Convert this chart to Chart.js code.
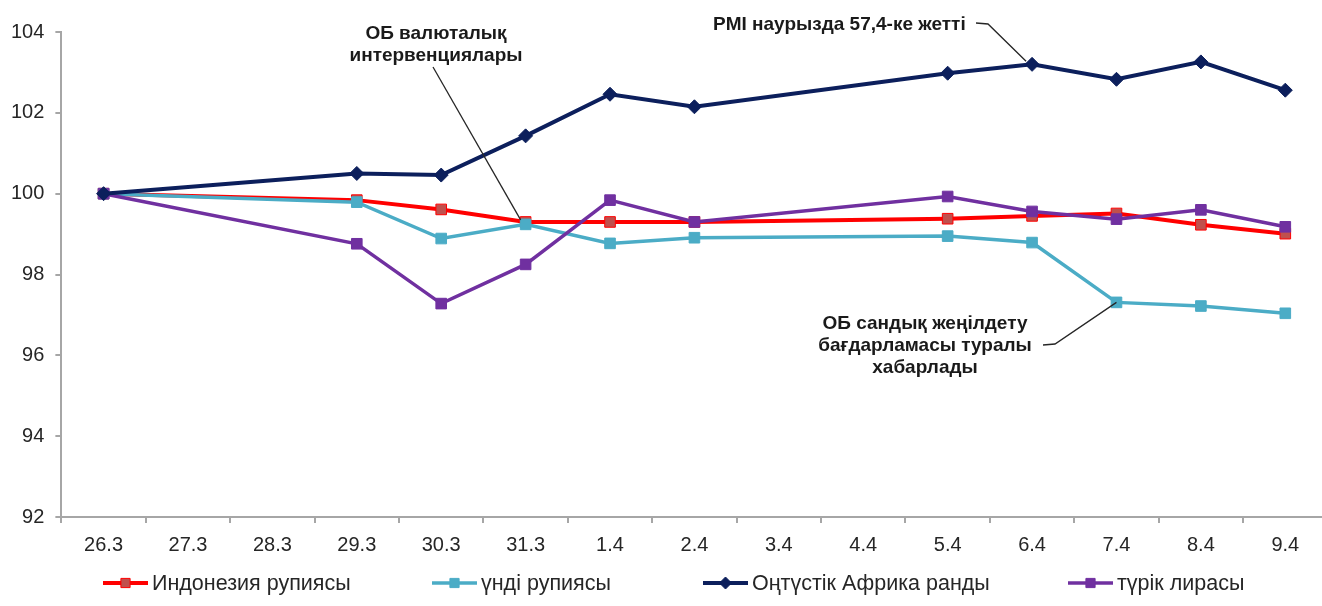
<!DOCTYPE html>
<html>
<head>
<meta charset="utf-8">
<script src="https://cdn.jsdelivr.net/npm/chart.js@4/dist/chart.umd.min.js"></script>
<style>
  html, body { margin: 0; padding: 0; background: #fff; overflow: hidden; }
  #wrap { width: 1336px; height: 606px; }
</style>
</head>
<body>
<div id="wrap"><canvas id="fxChart"></canvas></div>
<script>
// Dates (days with no quotes are null, line spans them)
const dates = ['26.3', '27.3', '28.3', '29.3', '30.3', '31.3', '1.4', '2.4', '3.4', '4.4', '5.4', '6.4', '7.4', '8.4', '9.4'];

const indonesiaRupiah = [100, null, null, 99.84, 99.61, 99.30, 99.30, 99.30, null, null, 99.38, 99.45, 99.51, 99.23, 99.01];
const indiaRupee      = [100, null, null, 99.79, 98.89, 99.24, 98.77, 98.91, null, null, 98.95, 98.79, 97.31, 97.22, 97.04];
const southAfricaRand = [100, null, null, 100.50, 100.46, 101.43, 102.46, 102.15, null, null, 102.98, 103.20, 102.83, 103.26, 102.56];
const turkishLira     = [100, null, null, 98.76, 97.28, 98.25, 99.84, 99.30, null, null, 99.93, 99.56, 99.37, 99.60, 99.18];

const yTicks = [92, 94, 96, 98, 100, 102, 104];

const seriesNames = ['Индонезия рупиясы', 'үнді рупиясы', 'Оңтүстік Африка ранды', 'түрік лирасы'];

const noteIntervention = ['ОБ валюталық', 'интервенциялары'];
const notePmi = ['PMI наурызда 57,4-ке жетті'];
const noteQe = ['ОБ сандық жеңілдету', 'бағдарламасы туралы', 'хабарлады'];

const FONT = 'Arial, "Liberation Sans", sans-serif';
const AXIS_GREY = '#a6a6a6';

// callouts and leader lines
const calloutPlugin = {
    id: 'callouts',
    afterDatasetsDraw(chart) {
        const ctx = chart.ctx;
        const x = chart.scales.x;
        const y = chart.scales.y;

        ctx.save();
        ctx.fillStyle = '#1a1a1a';
        ctx.font = 'bold 19px ' + FONT;
        ctx.textBaseline = 'middle';

        ctx.textAlign = 'center';
        noteIntervention.forEach((t, i) => ctx.fillText(t, 436, 34 + i * 22));
        noteQe.forEach((t, i) => ctx.fillText(t, 925, 324 + i * 22));
        ctx.textAlign = 'left';
        ctx.fillText(notePmi[0], 713, 25);

        ctx.strokeStyle = '#262626';
        ctx.lineWidth = 1.3;

        // intervention -> 31.3
        ctx.beginPath();
        ctx.moveTo(433, 67);
        ctx.lineTo(x.getPixelForValue(5) - 5, y.getPixelForValue(99.35));
        ctx.stroke();

        // PMI -> 6.4
        ctx.beginPath();
        ctx.moveTo(976, 23);
        ctx.lineTo(988, 24);
        ctx.lineTo(x.getPixelForValue(11) - 6, y.getPixelForValue(103.2) - 3);
        ctx.stroke();

        // QE -> 7.4
        ctx.beginPath();
        ctx.moveTo(1043, 345);
        ctx.lineTo(1055, 344);
        ctx.lineTo(x.getPixelForValue(12), y.getPixelForValue(97.31));
        ctx.stroke();
        ctx.restore();
    }
};

// legend drawn by hand: line + marker, then label
const legendPlugin = {
    id: 'lineLegend',
    afterDraw(chart) {
        const ctx = chart.ctx;
        const starts = [103, 432, 703, 1068];
        const cy = 583;
        ctx.save();
        chart.data.datasets.forEach((ds, i) => {
            const x0 = starts[i];
            ctx.strokeStyle = ds.borderColor;
            ctx.lineWidth = ds.borderWidth;
            ctx.beginPath();
            ctx.moveTo(x0, cy);
            ctx.lineTo(x0 + 45, cy);
            ctx.stroke();

            ctx.fillStyle = ds.pointBackgroundColor;
            ctx.strokeStyle = ds.pointBorderColor;
            ctx.lineWidth = 1;
            Chart.helpers.drawPoint(ctx, {
                pointStyle: ds.pointStyle,
                radius: ds.pointStyle === 'rectRot' ? 6 : 6.5,
                rotation: 0,
                borderWidth: 1
            }, x0 + 22.5, cy);

            ctx.fillStyle = '#262626';
            ctx.font = '21.5px ' + FONT;
            ctx.textAlign = 'left';
            ctx.textBaseline = 'middle';
            ctx.fillText(ds.label, x0 + 49, cy + 1);
        });
        ctx.restore();
    }
};

function lineSet(label, data, color, fill, style, radius, width, order) {
    return {
        label: label,
        data: data,
        order: order,
        borderColor: color,
        borderWidth: width,
        pointStyle: style,
        pointRadius: radius,
        pointHoverRadius: radius,
        pointBackgroundColor: fill,
        pointBorderColor: color,
        pointBorderWidth: 1,
        spanGaps: true,
        tension: 0,
        fill: false
    };
}

new Chart(document.getElementById('fxChart'), {
    type: 'line',
    data: {
        labels: dates,
        datasets: [
            lineSet(seriesNames[0], indonesiaRupiah, '#ff0000', '#c0504d', 'rect', 7.5, 4, 3),
            lineSet(seriesNames[1], indiaRupee, '#4bacc6', '#4bacc6', 'rect', 7.5, 3.5, 2),
            lineSet(seriesNames[2], southAfricaRand, '#0c1f5c', '#0c1f5c', 'rectRot', 7, 4, 0),
            lineSet(seriesNames[3], turkishLira, '#7030a0', '#7030a0', 'rect', 7.5, 3.5, 1)
        ]
    },
    options: {
        responsive: true,
        maintainAspectRatio: false,
        animation: false,
        layout: { padding: { top: 32, left: 0, right: 3, bottom: 39 } },
        plugins: {
            legend: { display: false },
            tooltip: { enabled: false }
        },
        scales: {
            x: {
                offset: true,
                grid: {
                    offset: true,
                    drawOnChartArea: false,
                    drawTicks: true,
                    tickLength: 6,
                    color: AXIS_GREY,
                    lineWidth: 2
                },
                border: { color: AXIS_GREY, width: 2 },
                ticks: {
                    color: '#262626',
                    padding: 10,
                    maxRotation: 0,
                    autoSkip: false,
                    font: { family: FONT, size: 20 }
                }
            },
            y: {
                min: 92,
                max: 104,
                afterBuildTicks: (scale) => {
                    scale.ticks = yTicks.map(v => ({ value: v }));
                },
                grid: {
                    drawOnChartArea: false,
                    drawTicks: true,
                    tickLength: 6,
                    color: AXIS_GREY,
                    lineWidth: 2
                },
                border: { color: AXIS_GREY, width: 2 },
                ticks: {
                    color: '#262626',
                    padding: 11,
                    font: { family: FONT, size: 20 }
                }
            }
        }
    },
    plugins: [calloutPlugin, legendPlugin]
});
</script>
</body>
</html>
